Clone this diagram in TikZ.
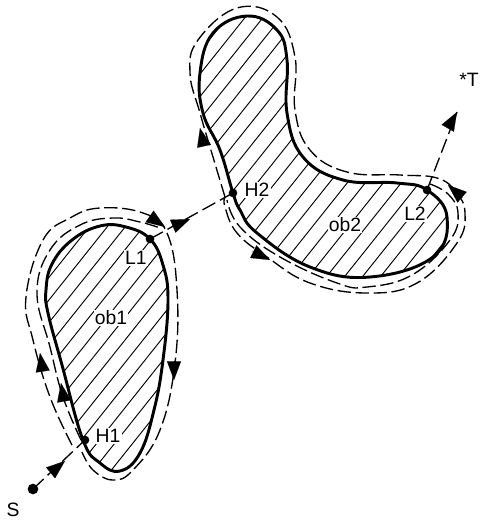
\documentclass[tikz,border=0pt]{standalone}
\usepackage{fontspec}
\setmainfont{Liberation Sans}
\usetikzlibrary{arrows.meta}
\tikzset{
  outline/.style={line width=2.2pt,line join=round},
  hatchline/.style={line width=0.7pt},
  guard/.style={line width=1pt,dash pattern=on 10pt off 3.5pt},
  leg/.style={line width=1pt,dash pattern=on 11pt off 4pt},
  dir/.style={-{Triangle[length=14pt,width=10.5pt]},line width=0.1pt},
  dot/.style={circle,fill=black,inner sep=0pt,minimum size=#1},
  lab/.style={font=\fontsize{14.5}{16}\selectfont,fill=white,inner sep=1pt}
}
\def\obone{(150,239) (126,227) (100,226) (72,240) (52,264) (46,290) (48,313) (62,365) (83,440) (100,463) (120,471) (140,453) (154,410) (163,360) (168,300) (163,265)}
\def\obtwo{(233,193) (220,150) (203,113) (200,73) (213,33) (247,16) (277,30) (287,60) (287,113) (303,157) (343,180) (397,183) (427,190) (447,217) (433,257) (370,277) (310,267) (257,233) (240,210)}
\begin{document}
\begin{tikzpicture}[x=0.75pt,y=-0.75pt]
\useasboundingbox (0,0) rectangle (480,522);
\fill[white] (0,0) rectangle (480,522);
\coordinate (S) at (33,489);
\coordinate (H1) at (85,440);
\coordinate (L1) at (150,239);
\coordinate (H2) at (233,193);
\coordinate (L2) at (427,190);
\coordinate (T) at (457,112);
% hatching
\begin{scope}
\clip plot[smooth cycle,tension=0.7] coordinates {\obone};
\foreach \c in {-200,-182,...,400} \draw[hatchline] (\c+416,0) -- (\c,522);
\end{scope}
\begin{scope}
\clip plot[smooth cycle,tension=0.7] coordinates {\obtwo};
\foreach \c in {-200,-182,...,400} \draw[hatchline] (\c+416+7,0) -- (\c+7,522);
\end{scope}
% outlines
\draw[outline] plot[smooth cycle,tension=0.7] coordinates {\obone};
\draw[outline] plot[smooth cycle,tension=0.7] coordinates {\obtwo};
% guard paths, object 1
\draw[guard] plot[smooth,tension=0.7] coordinates {(81,440) (63,397) (50,347) (37,293) (50,250) (80,225) (113,218) (140,222) (160,228)};
\draw[guard] plot[smooth,tension=0.7] coordinates {(72,445) (50,397) (33,340) (26,297) (43,240) (70,218) (100,208) (143,213) (167,233) (177,290) (175,363) (160,430) (133,470) (113,480) (93,470) (82,452)};
% guard paths, object 2
\draw[guard] plot[smooth,tension=0.7] coordinates {(225,197) (213,157) (200,113) (190,73) (198,40) (237,8) (277,17) (295,57) (295,110) (310,150) (347,172) (400,175) (437,178) (456,192) (465,213) (457,243) (417,283) (367,293) (310,283) (267,257) (237,233) (225,207) (225,197)};
\draw[guard] plot[smooth,tension=0.7] coordinates {(430,184) (448,194) (458,213) (450,240) (412,275) (367,287) (337,283) (280,257) (240,227) (227,200)};
% connectors
\draw[leg] (S) -- (H1);
\draw[leg] (L1) -- (H2);
\draw[leg] (L2) -- (T);
% arrowheads
\draw[dir] (48,475) -- (65,461);
\draw[dir] (171,227) -- (190,219);
\draw[dir] (449,126) -- (T);
\draw[dir] (43,373) -- (40,353);
\draw[dir] (64,401) -- (61,383);
\draw[dir] (149,216) -- (165,227);
\draw[dir] (174,361) -- (174,380);
\draw[dir] (204,146) -- (200,128);
\draw[dir] (252,251) -- (270,260);
\draw[dir] (463,198) -- (448,185);
% points
\node[dot=8pt] (nS) at (S) {};
\node[dot=6.5pt] (nH1) at (H1) {};
\node[dot=6.5pt] (nL1) at (L1) {};
\node[dot=6.5pt] (nH2) at (H2) {};
\node[dot=6.5pt] (nL2) at (L2) {};
% labels
\node[lab] (tob1) at (111,318) {ob1};
\node[lab] (tob2) at (345,225) {ob2};
\node[lab] (tH1) at (108,436) {H1};
\node[lab] (tL1) at (136,258) {L1};
\node[lab] (tH2) at (257,190) {H2};
\node[lab] (tL2) at (415,214) {L2};
\node[font=\fontsize{14.5}{16}\selectfont,inner sep=0pt] (tS) at (13,510) {S};
\node[font=\fontsize{14.5}{16}\selectfont,inner sep=0pt] (tT) at (469,80) {*T};
\end{tikzpicture}
\end{document}
